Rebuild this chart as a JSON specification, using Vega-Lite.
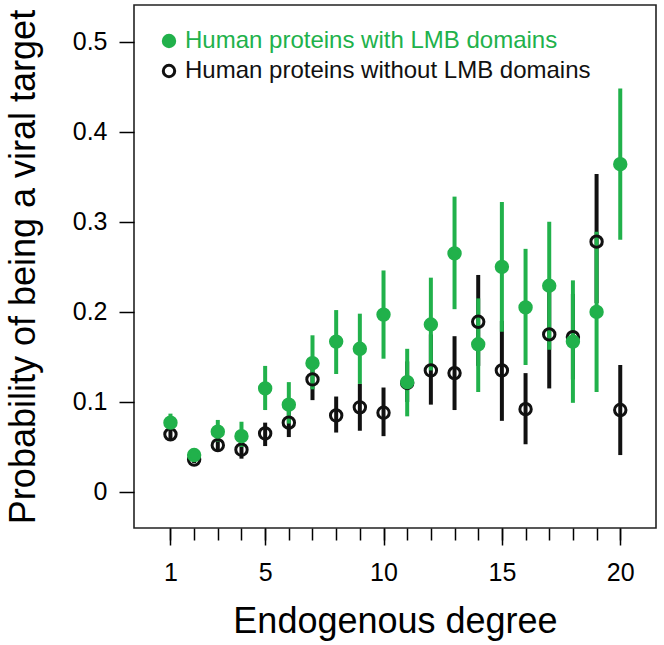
{
  "$schema": "https://vega.github.io/schema/vega-lite/v6.json",
  "autosize": "none",
  "width": 522,
  "height": 523,
  "padding": {"left": 134, "top": 5, "right": 8, "bottom": 117},
  "background": "white",
  "config": {
    "view": {"stroke": "#222222", "strokeWidth": 1.6},
    "axis": {
      "domain": false,
      "grid": false,
      "tickColor": "#000000",
      "tickWidth": 1.5,
      "labelFont": "Liberation Sans",
      "labelFontSize": 25,
      "labelColor": "#000000",
      "titleFont": "Liberation Sans",
      "titleFontSize": 36,
      "titleFontWeight": "normal",
      "titleColor": "#000000",
      "labelFlush": false,
      "labelOverlap": false
    },
    "legend": {
      "title": null, "orient": "none", "legendX": 23, "legendY": 24, "padding": 0,
      "labelFont": "Liberation Sans", "labelFontSize": 24, "labelOffset": 4, "rowPadding": 6,
      "symbolSize": 130, "symbolStrokeWidth": 3, "symbolType": "circle", "labelLimit": 600
    }
  },
  "data": {
    "values": [
      {"degree": 1, "group": "Human proteins without LMB domains", "p": 0.064, "lo": 0.058, "hi": 0.070},
      {"degree": 2, "group": "Human proteins without LMB domains", "p": 0.036, "lo": 0.032, "hi": 0.040},
      {"degree": 3, "group": "Human proteins without LMB domains", "p": 0.052, "lo": 0.046, "hi": 0.059},
      {"degree": 4, "group": "Human proteins without LMB domains", "p": 0.047, "lo": 0.037, "hi": 0.055},
      {"degree": 5, "group": "Human proteins without LMB domains", "p": 0.065, "lo": 0.051, "hi": 0.077},
      {"degree": 6, "group": "Human proteins without LMB domains", "p": 0.077, "lo": 0.061, "hi": 0.093},
      {"degree": 7, "group": "Human proteins without LMB domains", "p": 0.125, "lo": 0.102, "hi": 0.147},
      {"degree": 8, "group": "Human proteins without LMB domains", "p": 0.085, "lo": 0.066, "hi": 0.106},
      {"degree": 9, "group": "Human proteins without LMB domains", "p": 0.094, "lo": 0.068, "hi": 0.120},
      {"degree": 10, "group": "Human proteins without LMB domains", "p": 0.088, "lo": 0.062, "hi": 0.116},
      {"degree": 11, "group": "Human proteins without LMB domains", "p": 0.121, "lo": 0.100, "hi": 0.145},
      {"degree": 12, "group": "Human proteins without LMB domains", "p": 0.135, "lo": 0.097, "hi": 0.175},
      {"degree": 13, "group": "Human proteins without LMB domains", "p": 0.132, "lo": 0.091, "hi": 0.173},
      {"degree": 14, "group": "Human proteins without LMB domains", "p": 0.189, "lo": 0.140, "hi": 0.241},
      {"degree": 15, "group": "Human proteins without LMB domains", "p": 0.135, "lo": 0.079, "hi": 0.190},
      {"degree": 16, "group": "Human proteins without LMB domains", "p": 0.092, "lo": 0.053, "hi": 0.132},
      {"degree": 17, "group": "Human proteins without LMB domains", "p": 0.175, "lo": 0.115, "hi": 0.235},
      {"degree": 18, "group": "Human proteins without LMB domains", "p": 0.172, "lo": 0.125, "hi": 0.220},
      {"degree": 19, "group": "Human proteins without LMB domains", "p": 0.278, "lo": 0.210, "hi": 0.353},
      {"degree": 20, "group": "Human proteins without LMB domains", "p": 0.091, "lo": 0.041, "hi": 0.141},
      {"degree": 1, "group": "Human proteins with LMB domains", "p": 0.077, "lo": 0.070, "hi": 0.087},
      {"degree": 2, "group": "Human proteins with LMB domains", "p": 0.041, "lo": 0.036, "hi": 0.047},
      {"degree": 3, "group": "Human proteins with LMB domains", "p": 0.067, "lo": 0.056, "hi": 0.080},
      {"degree": 4, "group": "Human proteins with LMB domains", "p": 0.062, "lo": 0.050, "hi": 0.078},
      {"degree": 5, "group": "Human proteins with LMB domains", "p": 0.115, "lo": 0.091, "hi": 0.140},
      {"degree": 6, "group": "Human proteins with LMB domains", "p": 0.097, "lo": 0.076, "hi": 0.122},
      {"degree": 7, "group": "Human proteins with LMB domains", "p": 0.143, "lo": 0.114, "hi": 0.174},
      {"degree": 8, "group": "Human proteins with LMB domains", "p": 0.167, "lo": 0.131, "hi": 0.202},
      {"degree": 9, "group": "Human proteins with LMB domains", "p": 0.159, "lo": 0.120, "hi": 0.198},
      {"degree": 10, "group": "Human proteins with LMB domains", "p": 0.197, "lo": 0.148, "hi": 0.246},
      {"degree": 11, "group": "Human proteins with LMB domains", "p": 0.122, "lo": 0.084, "hi": 0.159},
      {"degree": 12, "group": "Human proteins with LMB domains", "p": 0.186, "lo": 0.135, "hi": 0.238},
      {"degree": 13, "group": "Human proteins with LMB domains", "p": 0.265, "lo": 0.203, "hi": 0.328},
      {"degree": 14, "group": "Human proteins with LMB domains", "p": 0.164, "lo": 0.111, "hi": 0.215},
      {"degree": 15, "group": "Human proteins with LMB domains", "p": 0.250, "lo": 0.178, "hi": 0.322},
      {"degree": 16, "group": "Human proteins with LMB domains", "p": 0.205, "lo": 0.141, "hi": 0.270},
      {"degree": 17, "group": "Human proteins with LMB domains", "p": 0.229, "lo": 0.158, "hi": 0.300},
      {"degree": 18, "group": "Human proteins with LMB domains", "p": 0.167, "lo": 0.099, "hi": 0.235},
      {"degree": 19, "group": "Human proteins with LMB domains", "p": 0.200, "lo": 0.111, "hi": 0.289},
      {"degree": 20, "group": "Human proteins with LMB domains", "p": 0.364, "lo": 0.280, "hi": 0.448}
    ]
  },
  "resolve": {"axis": {"x": "independent"}},
  "layer": [
    {
      "mark": {"type": "rule", "strokeWidth": 4},
      "encoding": {
        "x": {
          "field": "degree", "type": "quantitative",
          "scale": {"domain": [-0.54, 21.51], "nice": false, "zero": false},
          "axis": {
            "orient": "bottom",
            "values": [1,2,3,4,5,6,7,8,9,10,11,12,13,14,15,16,17,18,19,20],
            "tickSize": 12, "labels": false, "title": null
          }
        },
        "y": {
          "field": "lo", "type": "quantitative",
          "scale": {"domain": [-0.04, 0.5408], "nice": false, "zero": false},
          "axis": {
            "values": [0, 0.1, 0.2, 0.3, 0.4, 0.5],
            "format": ".1~f",
            "tickSize": 15, "labelPadding": 12,
            "title": "Probability of being a viral target",
            "titleX": -100, "titleY": 261.5, "titleAngle": 270,
            "titleBaseline": "alphabetic", "titleAlign": "center"
          }
        },
        "y2": {"field": "hi"},
        "stroke": {
          "field": "group", "type": "nominal",
          "scale": {
            "domain": ["Human proteins with LMB domains", "Human proteins without LMB domains"],
            "range": ["#21B14B", "#111111"]
          },
          "legend": {
            "encode": {"labels": {"update": {"fill": {"signal": "datum.value === 'Human proteins with LMB domains' ? '#21B14B' : '#111111'"}}}}
          }
        }
      }
    },
    {
      "mark": {"type": "point", "shape": "circle", "size": 130, "strokeWidth": 3, "opacity": 1, "filled": false},
      "encoding": {
        "x": {
          "field": "degree", "type": "quantitative",
          "scale": {"domain": [-0.54, 21.51], "nice": false, "zero": false},
          "axis": {
            "orient": "bottom",
            "values": [1, 5, 10, 15, 20],
            "tickSize": 17, "labelPadding": 15,
            "title": "Endogenous degree",
            "titleX": 261, "titleY": 104,
            "titleBaseline": "alphabetic", "titleAlign": "center"
          }
        },
        "y": {
          "field": "p", "type": "quantitative",
          "scale": {"domain": [-0.04, 0.5408], "nice": false, "zero": false},
          "axis": {
            "values": [0, 0.1, 0.2, 0.3, 0.4, 0.5],
            "format": ".1~f",
            "tickSize": 15, "labelPadding": 12,
            "title": "Probability of being a viral target",
            "titleX": -100, "titleY": 261.5, "titleAngle": 270,
            "titleBaseline": "alphabetic", "titleAlign": "center"
          }
        },
        "fill": {
          "field": "group", "type": "nominal",
          "scale": {
            "domain": ["Human proteins with LMB domains", "Human proteins without LMB domains"],
            "range": ["#21B14B", "transparent"]
          },
          "legend": {
            "encode": {"labels": {"update": {"fill": {"signal": "datum.value === 'Human proteins with LMB domains' ? '#21B14B' : '#111111'"}}}}
          }
        },
        "stroke": {
          "field": "group", "type": "nominal",
          "scale": {
            "domain": ["Human proteins with LMB domains", "Human proteins without LMB domains"],
            "range": ["#21B14B", "#111111"]
          },
          "legend": {
            "encode": {"labels": {"update": {"fill": {"signal": "datum.value === 'Human proteins with LMB domains' ? '#21B14B' : '#111111'"}}}}
          }
        }
      }
    }
  ]
}
